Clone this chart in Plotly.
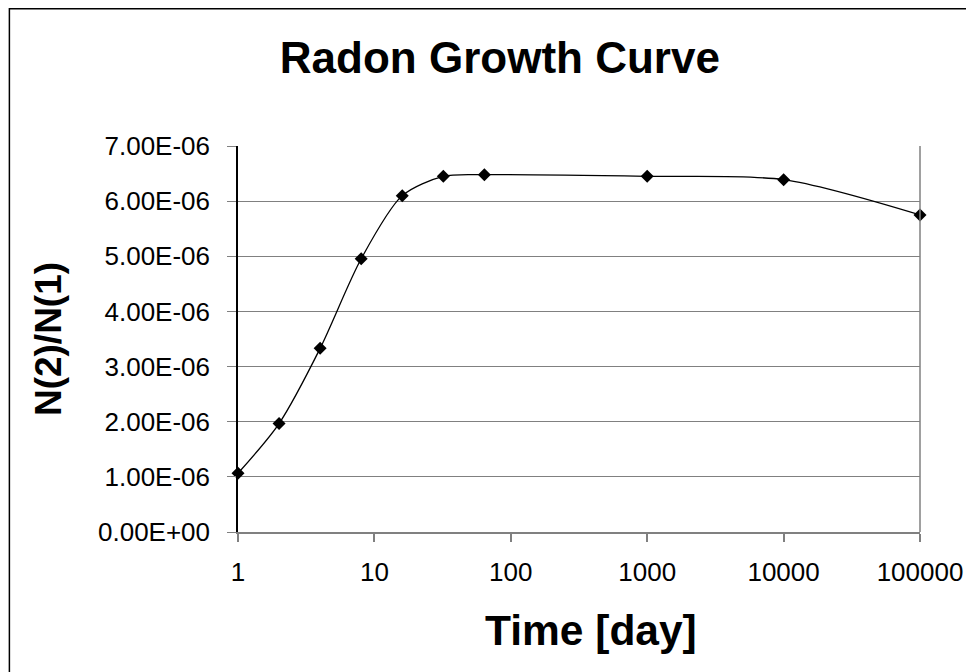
import plotly.graph_objects as go

# Data
time_days = [1, 2, 4, 8, 16, 32, 64, 1000, 10000, 100000]
ratio = [1.065e-6, 1.967e-6, 3.33e-6, 4.955e-6, 6.10e-6, 6.45e-6, 6.48e-6, 6.45e-6, 6.39e-6, 5.75e-6]

x_tickvals = [1, 10, 100, 1000, 10000, 100000]
x_ticktext = ["1", "10", "100", "1000", "10000", "100000"]
y_tickvals = [0, 1e-6, 2e-6, 3e-6, 4e-6, 5e-6, 6e-6, 7e-6]
y_ticktext = ["0.00E+00", "1.00E-06", "2.00E-06", "3.00E-06", "4.00E-06",
              "5.00E-06", "6.00E-06", "7.00E-06"]

FONT = "Liberation Sans, Arial, sans-serif"

fig = go.Figure()
fig.add_trace(go.Scatter(
    x=time_days, y=ratio, mode="lines+markers",
    line=dict(color="black", width=1.3, shape="spline", smoothing=0.8),
    marker=dict(symbol="diamond", size=10, color="black"),
    showlegend=False, cliponaxis=False,
))

fig.update_layout(
    width=974, height=672,
    margin=dict(l=229.5, r=62, t=138, b=148),
    paper_bgcolor="white", plot_bgcolor="white",
    font=dict(family=FONT, color="black"),
    title=dict(text="<b>Radon Growth Curve</b>", x=0.505, xanchor="center",
               y=1 - 50 / 672, yanchor="middle",
               font=dict(size=44, family=FONT, color="black")),
    xaxis=dict(
        type="log", range=[0, 5], tickvals=x_tickvals, ticktext=x_ticktext,
        showgrid=False, zeroline=False,
        showline=True, linecolor="#808080", linewidth=2, mirror=False,
        ticks="outside", ticklen=8, tickcolor="#808080", tickwidth=2,
        tickfont=dict(size=26, family=FONT, color="black"),
        ticklabelstandoff=8,
    ),
    yaxis=dict(
        range=[0, 7e-6], tickvals=y_tickvals, ticktext=y_ticktext,
        showgrid=True, gridcolor="#808080", gridwidth=1,
        zeroline=False,
        showline=True, linecolor="black", linewidth=1.5,
        ticks="outside", ticklen=9, tickcolor="#808080", tickwidth=1,
        tickfont=dict(size=26, family=FONT, color="black"),
        ticklabelstandoff=12,
        title=dict(text="<b>N(2)/N(1)</b>", standoff=25,
                   font=dict(size=37, family=FONT, color="black")),
    ),
    annotations=[
        dict(text="<b>Time [day]</b>", xref="paper", yref="paper",
             x=0.518, y=-0.254, xanchor="center", yanchor="middle",
             showarrow=False, font=dict(size=42.5, family=FONT, color="black")),
    ],
    shapes=[
        # right border of plot area
        dict(type="line", xref="paper", yref="paper", x0=1, x1=1, y0=0, y1=1,
             line=dict(color="#808080", width=1.5)),
        # outer chart-area border (top and left visible)
        dict(type="rect", xref="paper", yref="paper",
             x0=-0.3352, x1=1.3, y0=-0.5, y1=1.3556,
             line=dict(color="black", width=1.5), layer="below"),
    ],
)

fig.write_html("out.html")
